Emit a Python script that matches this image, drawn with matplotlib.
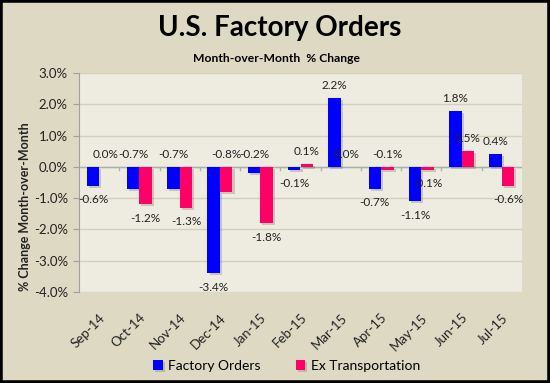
import numpy as np
import matplotlib
matplotlib.use('Agg')
import matplotlib.pyplot as plt
import matplotlib.patheffects as pe
from matplotlib.patches import Rectangle

months = ['Sep-14', 'Oct-14', 'Nov-14', 'Dec-14', 'Jan-15', 'Feb-15',
          'Mar-15', 'Apr-15', 'May-15', 'Jun-15', 'Jul-15']
factory = [-0.6, -0.7, -0.7, -3.4, -0.2, -0.1, 2.2, -0.7, -1.1, 1.8, 0.4]
ex_trans = [0.0, -1.2, -1.3, -0.8, -1.8, 0.1, 0.0, -0.1, -0.1, 0.5, -0.6]
# where each data label sits: 'a' above the zero line / bar top, 'b' below the bar end
factory_side = ['b', 'a', 'a', 'b', 'a', 'b', 'a', 'b', 'b', 'a', 'a']
ex_side = ['a', 'b', 'b', 'a', 'b', 'a', 'a', 'a', 'b', 'a', 'b']
yticks = [3, 2, 1, 0, -1, -2, -3, -4]

plt.rcParams['font.family'] = ['Lato', 'DejaVu Sans']

bg = '#DDD9C3'
plot_bg = '#EEECE1'
blue = '#0000FF'
pink = '#FF0066'
txt = '#222222'

fig = plt.figure(figsize=(5.5, 3.83), dpi=100)
fig.patch.set_facecolor(bg)
fig.patches.append(Rectangle((0, 0), 1, 1, transform=fig.transFigure,
                             fill=False, edgecolor='black', linewidth=4))

ax = fig.add_axes([79 / 550, 1 - 292 / 383, 443 / 550, 219 / 383])
ax.set_facecolor(plot_bg)

x = np.arange(len(months))
w = 0.31
shadow = [pe.SimplePatchShadow(offset=(1.5, -1.5), shadow_rgbFace='#555555', alpha=0.25),
          pe.Normal()]
b1 = ax.bar(x - w / 2, factory, w, color=blue, label='Factory Orders', zorder=3)
b2 = ax.bar(x + w / 2, ex_trans, w, color=pink, label='Ex Transportation', zorder=3)
for bar in list(b1) + list(b2):
    bar.set_path_effects(shadow)


def add_labels(xs, vals, sides):
    for xi, v, s in zip(xs, vals, sides):
        if s == 'a':
            ax.annotate(f'{v:.1f}%', (xi, max(v, 0)), xytext=(0, 9),
                        textcoords='offset points', ha='center', va='center',
                        fontsize=8.5, color=txt, zorder=5)
        else:
            ax.annotate(f'{v:.1f}%', (xi, min(v, 0)), xytext=(0, -10),
                        textcoords='offset points', ha='center', va='center',
                        fontsize=8.5, color=txt, zorder=5)


add_labels(x - w / 2, factory, factory_side)
add_labels(x + w / 2, ex_trans, ex_side)

ax.set_xlim(-0.5, len(months) - 0.5)
ax.set_ylim(-4, 3)
ax.set_yticks(yticks)
ax.set_yticklabels([f'{t:.1f}%' for t in yticks], fontsize=9.5, color=txt)
ax.yaxis.grid(True, color='#D4D0BC', linewidth=1, zorder=0)
ax.set_axisbelow(True)
ax.tick_params(axis='y', length=4, color='#A0A0A0', pad=4)

# zero line with category boundary ticks
ax.axhline(0, color='#A8B4A8', linewidth=1, zorder=2)
for b in np.arange(0.5, len(months) - 0.5, 1):
    ax.plot([b, b], [0, -0.1], color='#A8B4A8', linewidth=1, zorder=2)

ax.set_xticks(x)
ax.set_xticklabels(months, rotation=45, ha='right', rotation_mode='anchor',
                   fontsize=9.5, color=txt)
ax.tick_params(axis='x', length=0, pad=14)

for side in ['top', 'right', 'bottom']:
    ax.spines[side].set_visible(False)
ax.spines['left'].set_color('#A0A0A0')

fig.text(25 / 550, 1 - 207 / 383, '% Change Month-over-Month', rotation=90,
         ha='center', va='center', fontsize=9, fontweight='bold', color=txt)

fig.text(0.508, 0.928, 'U.S. Factory Orders', ha='center', va='center',
         fontsize=20, fontweight='bold')
fig.text(0.502, 0.848, 'Month-over-Month  % Change', ha='center', va='center',
         fontsize=8.7, fontweight='bold')

fig.legend(handles=[b1, b2], loc='center', bbox_to_anchor=(0.521, 0.045),
           ncol=2, frameon=False, fontsize=10, handlelength=0.7, handleheight=0.7,
           columnspacing=2.5, handletextpad=0.4)

fig.savefig('out.png', dpi=100, facecolor=bg)
